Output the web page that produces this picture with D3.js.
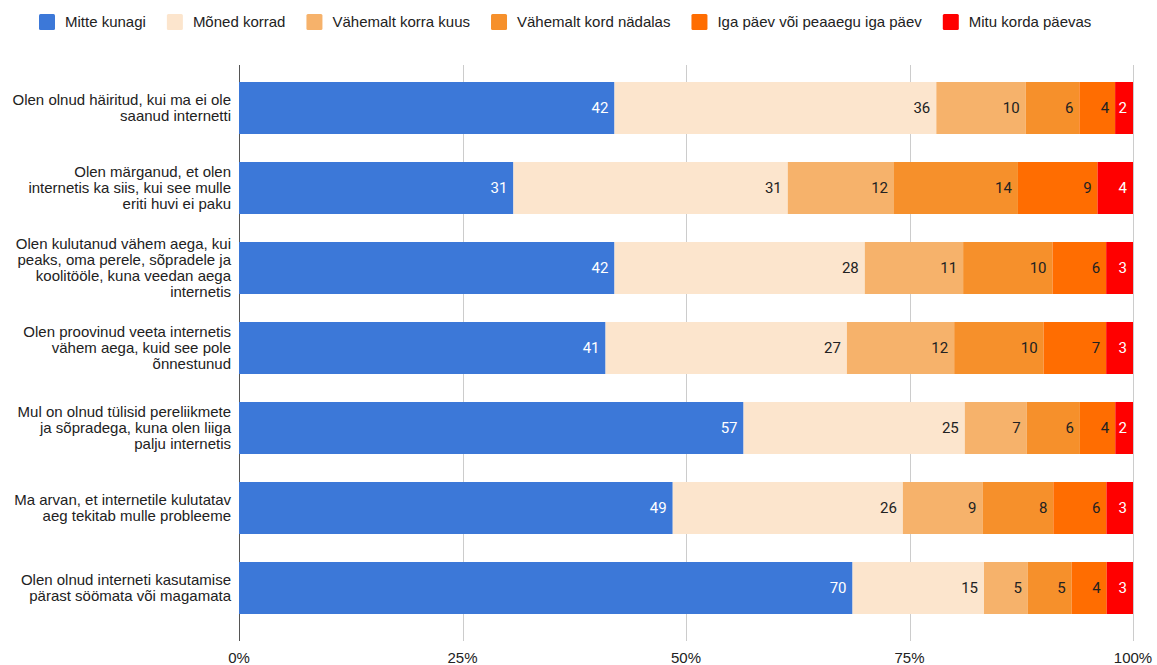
<!DOCTYPE html>
<html>
<head>
<meta charset="utf-8">
<script src="https://cdn.jsdelivr.net/npm/d3@7"></script>
<style>
  body { margin: 0; background: #fff; }
  svg { display: block; }
</style>
</head>
<body>
<svg id="chart"></svg>
<script>
// data
var categories = [
  "Olen olnud häiritud, kui ma ei ole\nsaanud internetti",
  "Olen märganud, et olen\ninternetis ka siis, kui see mulle\neriti huvi ei paku",
  "Olen kulutanud vähem aega, kui\npeaks, oma perele, sõpradele ja\nkoolitööle, kuna veedan aega\ninternetis",
  "Olen proovinud veeta internetis\nvähem aega, kuid see pole\nõnnestunud",
  "Mul on olnud tülisid pereliikmete\nja sõpradega, kuna olen liiga\npalju internetis",
  "Ma arvan, et internetile kulutatav\naeg tekitab mulle probleeme",
  "Olen olnud interneti kasutamise\npärast söömata või magamata"
];
var seriesNames = ["Mitte kunagi", "Mõned korrad", "Vähemalt korra kuus",
  "Vähemalt kord nädalas", "Iga päev või peaaegu iga päev", "Mitu korda päevas"];
var mitteKunagi   = [42, 31, 42, 41, 57, 49, 70];
var monedKorrad   = [36, 31, 28, 27, 25, 26, 15];
var korraKuus     = [10, 12, 11, 12, 7, 9, 5];
var kordNadalas   = [6, 14, 10, 10, 6, 8, 5];
var igaPaev       = [4, 9, 6, 7, 4, 6, 4];
var mituKorda     = [2, 4, 3, 3, 2, 3, 3];
var tickValues = [0, 0.25, 0.5, 0.75, 1];

var colors = ["#3c78d8", "#fce5cd", "#f6b26b", "#f6902b", "#ff6d01", "#ff0000"];
var labelColors = ["#fff", "#222", "#222", "#222", "#222", "#fff"];

var W = 1157, H = 665;
var svg = d3.select("#chart").attr("width", W).attr("height", H);

var allSeries = [mitteKunagi, monedKorrad, korraKuus, kordNadalas, igaPaev, mituKorda];
var rows = categories.map(function(c, i) {
  var r = { cat: c };
  seriesNames.forEach(function(s, j) { r[s] = allSeries[j][i]; });
  return r;
});

var stack = d3.stack().keys(seriesNames).offset(d3.stackOffsetExpand);
var stacked = stack(rows);

var x = d3.scaleLinear().domain([0, 1]).range([239, 1133]);
var y = d3.scaleBand().domain(categories).range([68, 628]).paddingInner(0.35).paddingOuter(0.175);

var sansFont = "'Liberation Sans', Arial, sans-serif";

// gridlines
svg.append("g").selectAll("line")
  .data(tickValues)
  .enter().append("line")
  .attr("x1", function(d) { return Math.round(x(d)) + 0.5; })
  .attr("x2", function(d) { return Math.round(x(d)) + 0.5; })
  .attr("y1", 65).attr("y2", 641)
  .attr("stroke", function(d) { return d === 0 ? "#555" : "#ccc"; })
  .attr("stroke-width", 1);

// bars
var layers = svg.append("g").selectAll("g")
  .data(stacked)
  .enter().append("g")
  .attr("fill", function(d, i) { return colors[i]; });

layers.selectAll("rect")
  .data(function(d) { return d; })
  .enter().append("rect")
  .attr("x", function(d) { return x(d[0]); })
  .attr("width", function(d) { return x(d[1]) - x(d[0]); })
  .attr("y", function(d) { return y(d.data.cat); })
  .attr("height", y.bandwidth());

// value labels
layers.each(function(layer, i) {
  d3.select(this).selectAll("text")
    .data(layer)
    .enter().append("text")
    .attr("x", function(d) { return x(d[1]) - 6; })
    .attr("y", function(d) { return y(d.data.cat) + y.bandwidth() / 2; })
    .attr("dy", "0.36em")
    .attr("text-anchor", "end")
    .attr("font-family", "Roboto, Arial, sans-serif")
    .attr("font-size", 15)
    .attr("fill", labelColors[i])
    .text(function(d) { return d.data[layer.key]; });
});

// category labels
var catG = svg.append("g");
categories.forEach(function(c) {
  var lines = c.split("\n");
  var lh = 16;
  var cy = y(c) + y.bandwidth() / 2;
  var t = catG.append("text")
    .attr("text-anchor", "end")
    .attr("font-family", sansFont)
    .attr("font-size", 15)
    .attr("fill", "#222");
  lines.forEach(function(l, k) {
    t.append("tspan")
      .attr("x", 231)
      .attr("y", cy - (lines.length - 1) * lh / 2 + k * lh)
      .attr("dy", "0.35em")
      .text(l);
  });
});

// x axis tick labels
svg.append("g").selectAll("text")
  .data(tickValues)
  .enter().append("text")
  .attr("x", function(d) { return x(d); })
  .attr("y", 663)
  .attr("text-anchor", "middle")
  .attr("font-family", sansFont)
  .attr("font-size", 15)
  .attr("fill", "#222")
  .text(d3.format(".0%"));

// legend
var legend = svg.append("g");
var lx = 39;
seriesNames.forEach(function(s, i) {
  legend.append("rect")
    .attr("x", lx).attr("y", 14)
    .attr("width", 16).attr("height", 16)
    .attr("rx", 1.5)
    .attr("fill", colors[i]);
  var t = legend.append("text")
    .attr("x", lx + 26).attr("y", 22)
    .attr("dy", "0.35em")
    .attr("font-family", sansFont)
    .attr("font-size", 15)
    .attr("fill", "#222")
    .text(s);
  lx += 26 + t.node().getComputedTextLength() + 21;
});
</script>
</body>
</html>
